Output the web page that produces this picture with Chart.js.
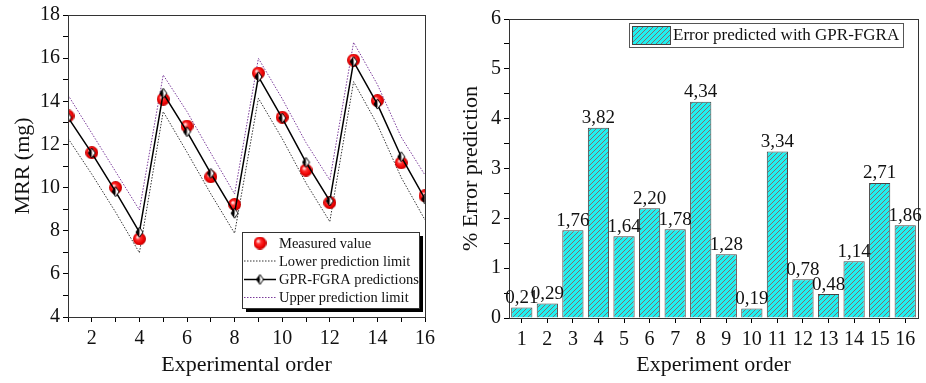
<!DOCTYPE html>
<html>
<head>
<meta charset="utf-8">
<script src="https://cdn.jsdelivr.net/npm/chart.js@4.4.1/dist/chart.umd.min.js"></script>
<style>
  html, body { margin: 0; padding: 0; background: #fff; }
  #left { position: absolute; left: 0; top: 0; width: 460px; height: 383px; }
  #right { position: absolute; left: 460px; top: 0; width: 466px; height: 383px; }
</style>
</head>
<body>
<div id="left"><canvas id="mrrChart"></canvas></div>
<div id="right"><canvas id="errorChart"></canvas></div>
<script>
// left panel: MRR per experimental order
const experiments = [1, 2, 3, 4, 5, 6, 7, 8, 9, 10, 11, 12, 13, 14, 15, 16];
const measured = [13.32, 11.62, 10.0, 7.62, 14.1, 12.85, 10.5, 9.22, 15.31, 13.26, 10.81, 9.3, 15.91, 14.03, 11.15, 9.62];
const predicted = [13.25, 11.6, 9.81, 7.93, 14.37, 12.59, 10.66, 8.81, 15.14, 13.22, 11.17, 9.38, 15.84, 13.87, 11.43, 9.47];
const lowerLimit = [12.28, 10.62, 8.86, 6.98, 13.52, 11.64, 9.71, 7.88, 14.14, 12.27, 10.21, 8.42, 14.91, 12.92, 10.47, 8.5];
const upperLimit = [14.29, 12.52, 10.74, 8.96, 15.22, 13.52, 11.6, 9.7, 15.99, 14.12, 12.08, 10.35, 16.73, 14.78, 12.34, 10.58];

// right panel: % error per experiment
const orderLabels = ['1', '2', '3', '4', '5', '6', '7', '8', '9', '10', '11', '12', '13', '14', '15', '16'];
const errorPct = [0.21, 0.29, 1.76, 3.82, 1.64, 2.20, 1.78, 4.34, 1.28, 0.19, 3.34, 0.78, 0.48, 1.14, 2.71, 1.86];

const serif = "'Liberation Serif', 'Times New Roman', serif";
Chart.defaults.font.family = serif;
Chart.defaults.color = '#111';

function makeSphere(r) {
  const c = document.createElement('canvas');
  c.width = c.height = r * 2;
  const g = c.getContext('2d');
  const grad = g.createRadialGradient(r * 0.7, r * 0.7, r * 0.1, r, r, r);
  grad.addColorStop(0, '#ffe0e0');
  grad.addColorStop(0.3, '#ff3030');
  grad.addColorStop(0.75, '#ee0000');
  grad.addColorStop(1, '#b00000');
  g.fillStyle = grad;
  g.beginPath();
  g.arc(r, r, r, 0, Math.PI * 2);
  g.fill();
  return c;
}

function makeDiamond(w, h) {
  const c = document.createElement('canvas');
  c.width = w + 2;
  c.height = h + 2;
  const g = c.getContext('2d');
  const cx = c.width / 2, cy = c.height / 2;
  g.fillStyle = '#000';
  g.beginPath();
  g.moveTo(cx, cy - h / 2); g.lineTo(cx - w / 2, cy); g.lineTo(cx, cy + h / 2); g.closePath();
  g.fill();
  g.fillStyle = '#fff';
  g.beginPath();
  g.moveTo(cx, cy - h / 2); g.lineTo(cx + w / 2, cy); g.lineTo(cx, cy + h / 2); g.closePath();
  g.fill();
  g.strokeStyle = '#000';
  g.lineWidth = 1;
  g.beginPath();
  g.moveTo(cx, cy - h / 2); g.lineTo(cx - w / 2, cy); g.lineTo(cx, cy + h / 2); g.lineTo(cx + w / 2, cy); g.closePath();
  g.stroke();
  return c;
}

function makeHatch() {
  const c = document.createElement('canvas');
  c.width = c.height = 5;
  const g = c.getContext('2d');
  g.fillStyle = '#1ff0f0';
  g.fillRect(0, 0, 5, 5);
  g.strokeStyle = '#806c6c';
  g.lineWidth = 1;
  g.beginPath();
  g.moveTo(0, 5); g.lineTo(5, 0);
  g.moveTo(-1, 1); g.lineTo(1, -1);
  g.moveTo(4, 6); g.lineTo(6, 4);
  g.stroke();
  return g.createPattern(c, 'repeat');
}

const sphere = makeSphere(6.5);
const diamond = makeDiamond(7, 10);
const hatch = makeHatch();

// box around the plotting area
const frame = {
  id: 'frame',
  afterDatasetsDraw(chart) {
    const { ctx, chartArea: a } = chart;
    ctx.save();
    ctx.strokeStyle = '#333';
    ctx.lineWidth = 1;
    ctx.strokeRect(a.left + 0.5, a.top + 0.5, a.right - a.left, a.bottom - a.top);
    ctx.restore();
  }
};

const mrrLegend = {
  id: 'mrrLegend',
  afterDraw(chart) {
    const { ctx, chartArea: a } = chart;
    const w = 177, h = 76;
    const x = a.right - 6 - w, y = a.bottom - 9 - h;
    ctx.save();
    ctx.fillStyle = '#000';
    ctx.fillRect(x + 4, y + 4, w, h);
    ctx.fillStyle = '#fff';
    ctx.fillRect(x, y, w, h);
    ctx.strokeStyle = '#333';
    ctx.lineWidth = 1;
    ctx.strokeRect(x + 0.5, y + 0.5, w, h);
    const rows = [y + 11, y + 29, y + 47.5, y + 65.5];
    const sx0 = x + 2, sx1 = x + 34, sc = x + 18;
    // measured
    ctx.drawImage(sphere, sc - sphere.width / 2, rows[0] - sphere.height / 2);
    // lower
    ctx.setLineDash([1.5, 1.5]);
    ctx.strokeStyle = '#333';
    ctx.beginPath(); ctx.moveTo(sx0, rows[1]); ctx.lineTo(sx1, rows[1]); ctx.stroke();
    // upper
    ctx.strokeStyle = '#7a3a9a';
    ctx.beginPath(); ctx.moveTo(sx0, rows[3]); ctx.lineTo(sx1, rows[3]); ctx.stroke();
    // predictions
    ctx.setLineDash([]);
    ctx.strokeStyle = '#000';
    ctx.lineWidth = 1.5;
    ctx.beginPath(); ctx.moveTo(sx0, rows[2]); ctx.lineTo(sx1, rows[2]); ctx.stroke();
    ctx.drawImage(diamond, sc - diamond.width / 2, rows[2] - diamond.height / 2);
    ctx.fillStyle = '#111';
    ctx.font = '14.5px ' + serif;
    ctx.textBaseline = 'middle';
    const names = ['Measured value', 'Lower prediction limit', 'GPR-FGRA predictions', 'Upper prediction limit'];
    names.forEach((n, i) => ctx.fillText(n, x + 37, rows[i] + 1));
    ctx.restore();
  }
};

const errLegend = {
  id: 'errLegend',
  afterDraw(chart) {
    const { ctx, chartArea: a } = chart;
    const w = 274, h = 24;
    const x = a.right - 15 - w, y = a.top + 4;
    ctx.save();
    ctx.fillStyle = '#fff';
    ctx.fillRect(x, y, w, h);
    ctx.strokeStyle = '#555';
    ctx.lineWidth = 1;
    ctx.strokeRect(x + 0.5, y + 0.5, w, h);
    ctx.fillStyle = hatch;
    ctx.fillRect(x + 3, y + 3, 38, 18);
    ctx.strokeStyle = '#444';
    ctx.strokeRect(x + 3.5, y + 3.5, 38, 18);
    ctx.fillStyle = '#111';
    ctx.font = '17px ' + serif;
    ctx.textBaseline = 'middle';
    ctx.fillText(chart.data.datasets[0].label, x + 44, y + 13);
    ctx.restore();
  }
};

const barValues = {
  id: 'barValues',
  afterDatasetsDraw(chart) {
    const { ctx } = chart;
    const meta = chart.getDatasetMeta(0);
    ctx.save();
    ctx.fillStyle = '#111';
    ctx.font = '19px ' + serif;
    ctx.textAlign = 'center';
    ctx.textBaseline = 'bottom';
    meta.data.forEach((bar, i) => {
      const txt = errorPct[i].toFixed(2).replace('.', ',');
      ctx.fillText(txt, bar.x, bar.y);
    });
    ctx.restore();
  }
};

const tickFont = { family: serif, size: 20 };
const titleFont = { family: serif, size: 22, lineHeight: 1 };

new Chart(document.getElementById('mrrChart').getContext('2d'), {
  type: 'line',
  data: {
    datasets: [
      {
        label: 'GPR-FGRA predictions',
        data: experiments.map((x, i) => ({ x: x, y: predicted[i] })),
        borderColor: '#000',
        borderWidth: 1.5,
        pointStyle: diamond,
        pointRadius: 5,
        order: 0,
      },
      {
        label: 'Measured value',
        data: experiments.map((x, i) => ({ x: x, y: measured[i] })),
        showLine: false,
        pointStyle: sphere,
        pointRadius: 6.5,
        order: 1,
      },
      {
        label: 'Lower prediction limit',
        data: experiments.map((x, i) => ({ x: x, y: lowerLimit[i] })),
        borderColor: '#333',
        borderWidth: 1,
        borderDash: [1.5, 1.5],
        pointRadius: 0,
        order: 2,
      },
      {
        label: 'Upper prediction limit',
        data: experiments.map((x, i) => ({ x: x, y: upperLimit[i] })),
        borderColor: '#7a3a9a',
        borderWidth: 1,
        borderDash: [1.5, 1.5],
        pointRadius: 0,
        order: 3,
      },
    ],
  },
  options: {
    responsive: true,
    maintainAspectRatio: false,
    animation: false,
    layout: { padding: { top: 15, right: 35, left: 0, bottom: 0 } },
    plugins: { legend: { display: false }, tooltip: { enabled: false } },
    scales: {
      x: {
        type: 'linear',
        min: 1,
        max: 16,
        afterFit: (s) => { s.height = 66; },
        border: { color: '#000', width: 1 },
        grid: { drawOnChartArea: false, drawTicks: true, tickLength: 5, color: '#000' },
        ticks: {
          stepSize: 1, autoSkip: false, maxRotation: 0, padding: 5, font: tickFont, color: '#111',
          callback: (v) => (v % 2 === 0 ? v : ''),
        },
        title: { display: true, text: 'Experimental order', font: titleFont, color: '#111', padding: { top: 0, bottom: 7 } },
      },
      y: {
        min: 4,
        max: 18,
        afterFit: (s) => { s.width = 68; },
        border: { color: '#000', width: 1 },
        grid: { drawOnChartArea: false, drawTicks: true, tickLength: 5, color: '#000' },
        ticks: {
          stepSize: 1, autoSkip: false, padding: 3, font: tickFont, color: '#111',
          callback: (v) => (v % 2 === 0 ? v : ''),
        },
        title: { display: true, text: 'MRR (mg)', font: titleFont, color: '#111', padding: { top: 12, bottom: 0 } },
      },
    },
  },
  plugins: [frame, mrrLegend],
});

new Chart(document.getElementById('errorChart').getContext('2d'), {
  type: 'bar',
  data: {
    labels: orderLabels,
    datasets: [
      {
        label: 'Error predicted with GPR-FGRA',
        data: errorPct,
        backgroundColor: hatch,
        borderColor: '#444',
        borderWidth: 1,
        barPercentage: 0.83,
        categoryPercentage: 1.0,
      },
    ],
  },
  options: {
    responsive: true,
    maintainAspectRatio: false,
    animation: false,
    layout: { padding: { top: 19, right: 8, left: 0, bottom: 0 } },
    plugins: { legend: { display: false }, tooltip: { enabled: false } },
    scales: {
      x: {
        afterFit: (s) => { s.height = 65; },
        border: { color: '#000', width: 1 },
        grid: { offset: false, drawOnChartArea: false, drawTicks: true, tickLength: 5, color: '#000' },
        ticks: { autoSkip: false, maxRotation: 0, padding: 5, font: tickFont, color: '#111' },
        title: { display: true, text: 'Experiment order', font: titleFont, color: '#111', padding: { top: 0, bottom: 7 } },
      },
      y: {
        min: 0,
        max: 6,
        afterFit: (s) => { s.width = 49; },
        border: { color: '#000', width: 1 },
        grid: { drawOnChartArea: false, drawTicks: true, tickLength: 5, color: '#000' },
        ticks: {
          stepSize: 0.5, autoSkip: false, padding: 3, font: tickFont, color: '#111',
          callback: (v) => (Number.isInteger(v) ? v : ''),
        },
        title: { display: true, text: '% Error prediction', font: titleFont, color: '#111', padding: { top: 0, bottom: 0 } },
      },
    },
  },
  plugins: [frame, barValues, errLegend],
});
</script>
</body>
</html>
